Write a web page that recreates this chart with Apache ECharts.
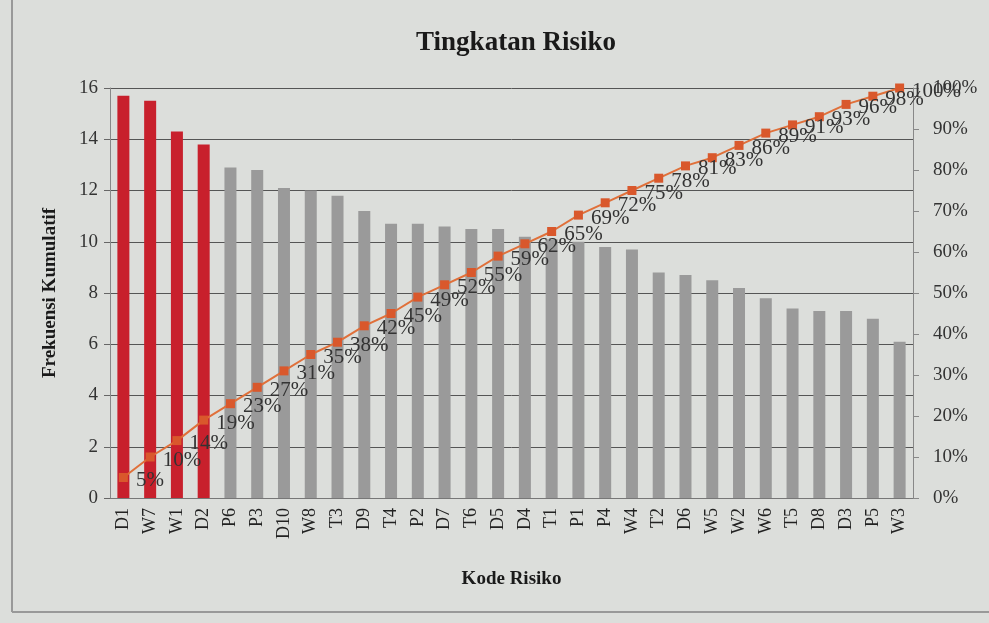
<!DOCTYPE html>
<html>
<head>
<meta charset="utf-8">
<script src="https://cdn.jsdelivr.net/npm/echarts@6/dist/echarts.min.js"></script>
<style>
html,body{margin:0;padding:0;background:#dcdedb;}
#chart{width:989px;height:623px;}
</style>
</head>
<body>
<div id="chart"></div>
<script>
const categories = ['D1','W7','W1','D2','P6','P3','D10','W8','T3','D9','T4','P2','D7','T6','D5','D4','T1','P1','P4','W4','T2','D6','W5','W2','W6','T5','D8','D3','P5','W3'];
const frequencies = [15.7,15.5,14.3,13.8,12.9,12.8,12.1,12.0,11.8,11.2,10.7,10.7,10.6,10.5,10.5,10.2,10.1,10.0,9.8,9.7,8.8,8.7,8.5,8.2,7.8,7.4,7.3,7.3,7.0,6.1];
const cumulativePct = [5,10,14,19,23,27,31,35,38,42,45,49,52,55,59,62,65,69,72,75,78,81,83,86,89,91,93,96,98,100];
const highlightCount = 4;
const leftTicks = {min:0, max:16, interval:2};
const rightTicks = {min:0, max:100, interval:10};

const serif = '"Liberation Serif", "DejaVu Serif", serif';
const chart = echarts.init(document.getElementById('chart'));
chart.setOption({
  backgroundColor: '#dcdedb',
  animation: false,
  title: {
    text: 'Tingkatan Risiko',
    left: 511, top: 25, textAlign: 'center',
    textStyle: {fontFamily: serif, fontSize: 27, fontWeight: 'bold', color: '#1a1a1a'}
  },
  grid: {left: 110, right: 76, top: 88, bottom: 125},
  xAxis: {
    type: 'category',
    data: categories,
    name: 'Kode Risiko',
    nameLocation: 'middle',
    nameGap: 72,
    nameTextStyle: {fontFamily: serif, fontSize: 19, fontWeight: 'bold', color: '#1a1a1a'},
    axisLine: {lineStyle: {color: '#777'}},
    axisTick: {show: false},
    axisLabel: {rotate: 90, fontFamily: serif, fontSize: 18, color: '#222', margin: 10, interval: 0}
  },
  yAxis: [{
    type: 'value',
    min: leftTicks.min, max: leftTicks.max, interval: leftTicks.interval,
    name: 'Frekuensi Kumulatif',
    nameLocation: 'middle',
    nameGap: 50,
    nameTextStyle: {fontFamily: serif, fontSize: 19, fontWeight: 'bold', color: '#1a1a1a'},
    axisLine: {show: true, lineStyle: {color: '#888'}},
    axisTick: {show: true, length: 6, lineStyle: {color: '#666'}},
    axisLabel: {fontFamily: serif, fontSize: 19, color: '#333', margin: 12},
    splitLine: {lineStyle: {color: '#555', width: 1}}
  }, {
    type: 'value',
    min: rightTicks.min, max: rightTicks.max, interval: rightTicks.interval,
    axisLine: {show: true, lineStyle: {color: '#888'}},
    axisTick: {show: true, length: 6, lineStyle: {color: '#888'}},
    axisLabel: {fontFamily: serif, fontSize: 19, color: '#333', margin: 20, formatter: '{value}%'},
    splitLine: {show: false}
  }],
  series: [{
    type: 'bar',
    data: frequencies.map((v, i) => ({value: v, itemStyle: {color: i < highlightCount ? '#c8202c' : '#9a9a9a'}})),
    barWidth: 12,
    yAxisIndex: 0
  }, {
    type: 'line',
    data: cumulativePct,
    yAxisIndex: 1,
    symbol: 'rect',
    symbolSize: 9,
    itemStyle: {color: '#d9582c'},
    lineStyle: {color: '#e0703a', width: 2},
    label: {
      show: true, position: 'right', distance: 8, offset: [0, 3],
      formatter: '{c}%',
      fontFamily: serif, fontSize: 21, color: '#333'
    }
  }],
  graphic: [
    {type: 'line', shape: {x1: 12, y1: 0, x2: 12, y2: 612}, style: {stroke: '#999', lineWidth: 2}},
    {type: 'line', shape: {x1: 12, y1: 612, x2: 989, y2: 612}, style: {stroke: '#999', lineWidth: 2}}
  ]
});
</script>
</body>
</html>
